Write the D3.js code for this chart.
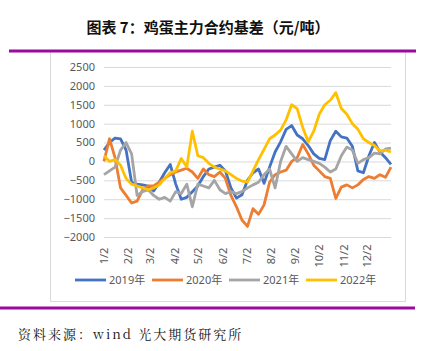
<!DOCTYPE html>
<html>
<head>
<meta charset="utf-8">
<script src="https://cdn.jsdelivr.net/npm/d3@7"></script>
<style>
  body { margin: 0; background: #fff; }
  svg { display: block; }
</style>
</head>
<body>
<svg id="chart" width="441" height="351"></svg>
<script>
// Series names and colours
var seriesNames = ["2019年", "2020年", "2021年", "2022年"];
var seriesColors = ["#4472C4", "#ED7D31", "#A5A5A5", "#FFC000"];

// Tick labels on the x axis (day 2 of each month)
var monthLabels = ["1/2", "2/2", "3/2", "4/2", "5/2", "6/2", "7/2", "8/2", "9/2", "10/2", "11/2", "12/2"];
var yTicks = [2500, 2000, 1500, 1000, 500, 0, -500, -1000, -1500, -2000];

// Weekly basis values (yuan/ton), starting 1/2
var basis2019 = [300, 500, 620, 600, 300, -550, -600, -620, -650, -780, -550, -300, -80, -600,
  -1000, -950, -800, -650, -400, -200, -150, -100, -250, -700, -970, -880, -500, -300, -200, -580,
  -150, 250, 520, 850, 950, 700, 600, 420, 200, 80, 50, 550, 800, 650, 620, 400, -250, -300, 150,
  500, 250, 100, -80];
var basis2020 = [0, 600, 100, -700, -900, -1100, -1050, -750, -650, -650, -550, -450, -350, -280,
  -230, -180, -280, -450, -200, -350, -400, -280, -450, -900, -1200, -1550, -1720, -1250, -1400,
  -1150, -550, -350, -280, -230, 0, 100, 450, 200, -100, -250, -400, -450, -980, -680, -620, -700,
  -620, -480, -400, -450, -350, -420, -150];
var basis2021 = [-350, -250, -150, 300, 500, 200, -900, -800, -750, -900, -1000, -950, -1050, -800,
  -850, -600, -1200, -600, -650, -700, -500, -750, -850, -800, -850, -800, -700, -620, -550, -350,
  -200, -700, 0, 400, 200, 0, 100, 50, 0, -50, -150, -280, -200, 150, 380, 300, -50, 50, 100, 220,
  200, 330, 350];
var basis2022 = [150, 0, 50, -100, -450, -600, -650, -700, -750, -700, -620, -450, -300, -250, 80,
  -150, 800, 150, 100, -50, -150, -200, -250, -350, -450, -520, -550, -250, 50, 320, 600, 700, 830,
  1100, 1500, 1400, 900, 520, 800, 1250, 1500, 1620, 1820, 1400, 1250, 1000, 850, 600, 500, 420,
  280, 300, 250];

var allSeries = [basis2019, basis2020, basis2021, basis2022];

var svg = d3.select("#chart");

// Page title
svg.append("text")
    .attr("x", 208)
    .attr("y", 33)
    .attr("text-anchor", "middle")
    .attr("font-family", "Noto Sans CJK SC")
    .attr("font-weight", "bold")
    .attr("font-size", 15)
    .attr("fill", "#111")
    .text("图表 7：鸡蛋主力合约基差（元/吨）");

// Chart frame
svg.append("rect")
    .attr("x", 50.5).attr("y", 51.5)
    .attr("width", 355).attr("height", 250)
    .attr("fill", "none")
    .attr("stroke", "#d9d9d9");

// Purple rules
svg.append("line")
    .attr("x1", 9).attr("x2", 416).attr("y1", 51).attr("y2", 51)
    .attr("stroke", "#9B0A9B").attr("stroke-width", 3);
svg.append("line")
    .attr("x1", 0).attr("x2", 415).attr("y1", 308).attr("y2", 308)
    .attr("stroke", "#9B0A9B").attr("stroke-width", 3);

// Source note
svg.append("text")
    .attr("x", 18)
    .attr("y", 339)
    .attr("font-family", "Noto Serif CJK SC, Noto Sans CJK SC")
    .attr("font-size", 13)
    .attr("letter-spacing", 2)
    .attr("fill", "#111")
    .text("资料来源：wind 光大期货研究所");

// Scales
var startDate = new Date(2022, 0, 2);
var dates = allSeries[0].map((d, i) => d3.timeDay.offset(startDate, 7 * i));

var x = d3.scaleTime()
    .domain([startDate, new Date(2023, 0, 1)])
    .range([104, 391]);

var y = d3.scaleLinear()
    .domain([-2000, 2500])
    .range([237, 67]);

// Gridlines
svg.append("g")
    .attr("transform", "translate(104,0)")
    .call(d3.axisLeft(y).tickValues(yTicks).tickSize(-287).tickFormat(""))
    .call(g => g.select(".domain").remove())
    .call(g => g.selectAll("line").attr("stroke", "#d9d9d9").attr("stroke-width", 1));

// Y axis labels
svg.append("g")
    .selectAll("text")
    .data(yTicks)
    .enter().append("text")
    .attr("x", 95)
    .attr("y", d => y(d))
    .attr("dy", "0.35em")
    .attr("text-anchor", "end")
    .attr("font-family", "Noto Sans, Noto Sans CJK SC")
    .attr("font-size", 11)
    .attr("fill", "#595959")
    .text(d => d < 0 ? "\u2212" + Math.abs(d) : d);

// X axis labels, rotated
var tickDates = monthLabels.map((m, i) => new Date(2022, i, 2));
svg.append("g")
    .selectAll("text")
    .data(tickDates)
    .enter().append("text")
    .attr("transform", (d, i) => "translate(" + x(d) + ",256) rotate(-90)")
    .attr("dy", "0.35em")
    .attr("text-anchor", "middle")
    .attr("font-family", "Noto Sans, Noto Sans CJK SC")
    .attr("font-size", 11)
    .attr("fill", "#595959")
    .text((d, i) => monthLabels[i]);

// Lines
var line = d3.line()
    .x((d, i) => x(dates[i]))
    .y(d => y(d));

svg.append("g")
    .selectAll("path")
    .data(allSeries)
    .enter().append("path")
    .attr("d", line)
    .attr("fill", "none")
    .attr("stroke", (d, i) => seriesColors[i])
    .attr("stroke-width", 2.8)
    .attr("stroke-linejoin", "round");

// Legend
var legendX = [75, 152, 229, 306];
var legend = svg.append("g")
    .selectAll("g")
    .data(seriesNames)
    .enter().append("g")
    .attr("transform", (d, i) => "translate(" + legendX[i] + ",280)");

legend.append("line")
    .attr("x1", 0).attr("x2", 31)
    .attr("stroke", (d, i) => seriesColors[i])
    .attr("stroke-width", 2.8);

legend.append("text")
    .attr("x", 34)
    .attr("dy", "0.35em")
    .attr("font-family", "Noto Sans, Noto Sans CJK SC")
    .attr("font-size", 11)
    .attr("fill", "#595959")
    .text(d => d);
</script>
</body>
</html>
